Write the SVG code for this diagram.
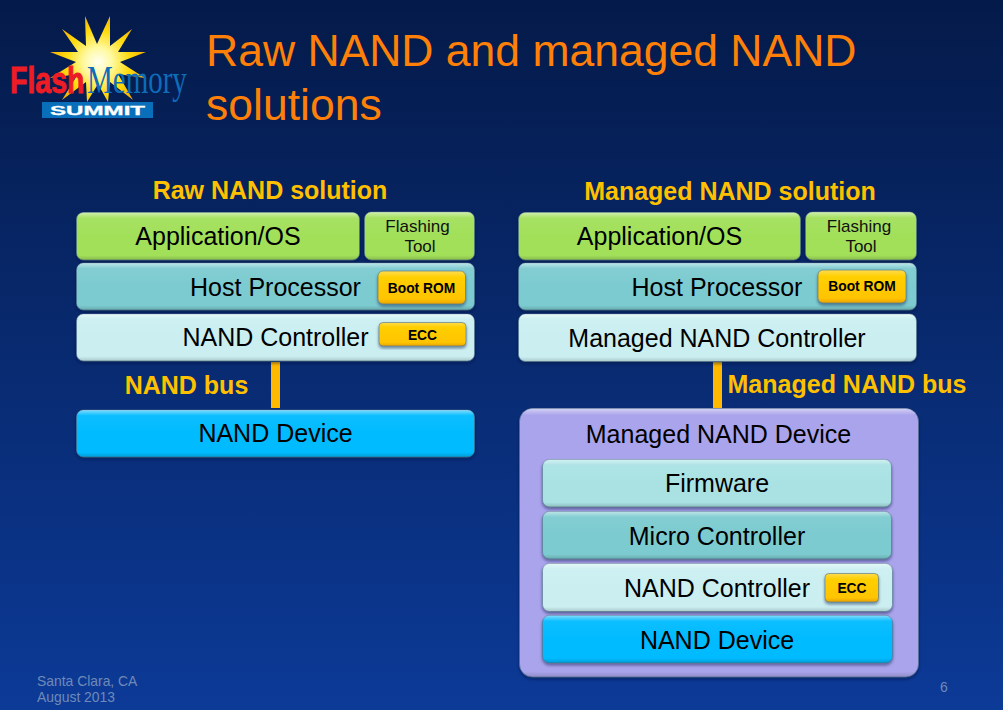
<svg xmlns="http://www.w3.org/2000/svg" width="1003" height="710" viewBox="0 0 1003 710">
<style>
text{font-family:"Liberation Sans",Arial,sans-serif}
.b{stroke:#4f6f8a;stroke-opacity:.6;stroke-width:1;filter:url(#sh)}
.o{fill:url(#bevel)}
.l{font-size:25px;fill:#000;text-anchor:middle}
.s{font-size:17px;fill:#111;text-anchor:middle}
.h{font-size:25px;font-weight:bold;fill:#ffc000;text-anchor:middle}
.y{font-size:13.800px;font-weight:bold;fill:#000;text-anchor:middle}
.f{font-size:13.900px;fill:#6f8ab8}
.green{fill:#a2e05a}.teal{fill:#7ccbd0}.pale{fill:#cbeff1}.cyan{fill:#00bbff}.aqua{fill:#aae2e4}.lav{fill:#aaa4ec}
.bus{fill:#ffb900}
</style>
<defs>
<linearGradient id="bg" x1="0" y1="0" x2="0" y2="1"><stop offset="0" stop-color="#041a49"/><stop offset="1" stop-color="#0c3a97"/></linearGradient>
<linearGradient id="bevel" x1="0" y1="0" x2="0" y2="1"><stop offset="0" stop-color="#fff" stop-opacity=".5"/><stop offset=".12" stop-color="#fff" stop-opacity=".05"/><stop offset=".5" stop-color="#fff" stop-opacity="0"/><stop offset=".9" stop-color="#000" stop-opacity="0"/><stop offset="1" stop-color="#000" stop-opacity=".16"/></linearGradient>
<linearGradient id="lavbevel" x1="0" y1="0" x2="0" y2="1"><stop offset="0" stop-color="#fff" stop-opacity=".5"/><stop offset=".025" stop-color="#fff" stop-opacity="0"/><stop offset=".98" stop-color="#000" stop-opacity="0"/><stop offset="1" stop-color="#000" stop-opacity=".15"/></linearGradient>
<linearGradient id="gold" x1="0" y1="0" x2="0" y2="1"><stop offset="0" stop-color="#ffdc50"/><stop offset=".2" stop-color="#ffcf00"/><stop offset=".85" stop-color="#ffc400"/><stop offset="1" stop-color="#e8a400"/></linearGradient>
<radialGradient id="sun" gradientUnits="userSpaceOnUse" cx="98" cy="62" r="48"><stop offset="0" stop-color="#fffff0"/><stop offset=".3" stop-color="#fff9a0"/><stop offset=".65" stop-color="#ffdc10"/><stop offset="1" stop-color="#f5b000"/></radialGradient>
<filter id="sh" x="-5%" y="-10%" width="110%" height="125%"><feDropShadow dx="0" dy="2" stdDeviation="1.500" flood-color="#001040" flood-opacity=".5"/></filter>
</defs>
<rect width="1003" height="710" fill="url(#bg)"/>
<g id="logo">
<polygon fill="url(#sun)" points="85,16 97,44 110,16 110,46 132,29 118,52 146,52 120,62 145,78 118,74 133,100 110,82 108,102 98,84 87,102 86,82 62,100 78,74 50,78 76,62 50,52 78,52 62,29 86,46"/>
<rect x="42" y="102" width="111" height="16" fill="#0a6fba"/>
<text transform="translate(50,115) scale(1.93,1)" font-size="12.500" font-weight="bold" fill="#fff" stroke="#fff" stroke-width=".3">SUMMIT</text>
<text transform="translate(10,93) scale(.77,1)" font-size="37" font-weight="bold" fill="#ee1c25" stroke="#ee1c25" stroke-width=".9">Flash</text>
<text transform="translate(87,93) scale(.725,1)" font-size="40" fill="#0f6cb8" style="font-family:'Liberation Serif',serif">Memory</text>
</g>
<g id="title" font-size="44.500" fill="#ff8008">
<text x="206" y="66">Raw NAND and managed NAND</text>
<text x="206" y="120">solutions</text>
</g>
<text id="left-heading" class="h" x="270" y="199">Raw NAND solution</text>
<text id="right-heading" class="h" x="730" y="200">Managed NAND solution</text>
<g id="connectors">
<rect class="bus" x="271" y="362" width="9" height="46"/>
<rect class="bus" x="713" y="362" width="9" height="46"/>
</g>
<text id="nand-bus" class="h" x="186.500" y="394">NAND bus</text>
<text id="managed-nand-bus" class="h" x="847" y="393">Managed NAND bus</text>

<g id="l-app"><rect class="b green" x="76.500" y="212.500" width="283" height="47.500" rx="7"/><rect class="o" x="76.500" y="212.500" width="283" height="47.500" rx="7"/><text class="l" x="218" y="245">Application/OS</text></g>
<g id="l-flash"><rect class="b green" x="364.500" y="212" width="110" height="48" rx="7"/><rect class="o" x="364.500" y="212" width="110" height="48" rx="7"/><text class="s" x="417.500" y="232">Flashing</text><text class="s" x="420" y="252">Tool</text></g>
<g id="l-host"><rect class="b teal" x="76.500" y="263" width="398" height="47" rx="7"/><rect class="o" x="76.500" y="263" width="398" height="47" rx="7"/><text class="l" x="275.500" y="296">Host Processor</text></g>
<g id="l-boot"><rect class="b" fill="url(#gold)" x="378" y="271" width="87.500" height="33" rx="5"/><text class="y" x="421.500" y="293">Boot ROM</text></g>
<g id="l-ctrl"><rect class="b pale" x="76.500" y="314" width="398" height="47" rx="7"/><rect class="o" x="76.500" y="314" width="398" height="47" rx="7"/><text class="l" x="275.500" y="346">NAND Controller</text></g>
<g id="l-ecc"><rect class="b" fill="url(#gold)" x="379" y="322.500" width="87" height="23.500" rx="4"/><text class="y" x="422.500" y="340">ECC</text></g>
<g id="l-dev"><rect class="b cyan" x="76.500" y="410" width="398" height="47" rx="7"/><rect class="o" x="76.500" y="410" width="398" height="47" rx="7"/><text class="l" x="275.500" y="442">NAND Device</text></g>

<g id="r-app"><rect class="b green" x="518.500" y="212.500" width="282" height="47.500" rx="7"/><rect class="o" x="518.500" y="212.500" width="282" height="47.500" rx="7"/><text class="l" x="659.500" y="245">Application/OS</text></g>
<g id="r-flash"><rect class="b green" x="805.500" y="212" width="111" height="48" rx="7"/><rect class="o" x="805.500" y="212" width="111" height="48" rx="7"/><text class="s" x="859" y="232">Flashing</text><text class="s" x="861" y="252">Tool</text></g>
<g id="r-host"><rect class="b teal" x="518.500" y="263" width="398" height="47" rx="7"/><rect class="o" x="518.500" y="263" width="398" height="47" rx="7"/><text class="l" x="717" y="296">Host Processor</text></g>
<g id="r-boot"><rect class="b" fill="url(#gold)" x="818" y="270" width="88" height="33" rx="5"/><text class="y" x="862" y="291">Boot ROM</text></g>
<g id="r-ctrl"><rect class="b pale" x="518.500" y="314" width="398" height="47.500" rx="7"/><rect class="o" x="518.500" y="314" width="398" height="47.500" rx="7"/><text class="l" x="717" y="347">Managed NAND Controller</text></g>
<g id="r-device"><rect class="b lav" x="519.500" y="408.500" width="399" height="268.500" rx="13"/><rect x="519.500" y="408.500" width="399" height="268.500" rx="13" fill="url(#lavbevel)"/><text class="l" x="718.500" y="443">Managed NAND Device</text></g>
<g id="r-fw"><rect class="b aqua" x="542.500" y="459.500" width="349" height="47.500" rx="7"/><rect class="o" x="542.500" y="459.500" width="349" height="47.500" rx="7"/><text class="l" x="717" y="492">Firmware</text></g>
<g id="r-mc"><rect class="b teal" x="542.500" y="511.500" width="349" height="47.500" rx="7"/><rect class="o" x="542.500" y="511.500" width="349" height="47.500" rx="7"/><text class="l" x="717" y="545">Micro Controller</text></g>
<g id="r-nc"><rect class="b pale" x="542.500" y="563.500" width="350" height="48" rx="7"/><rect class="o" x="542.500" y="563.500" width="350" height="48" rx="7"/><text class="l" x="717" y="597">NAND Controller</text></g>
<g id="r-ecc"><rect class="b" fill="url(#gold)" x="825" y="573.500" width="53.500" height="28.500" rx="4"/><text class="y" x="852" y="593">ECC</text></g>
<g id="r-nd"><rect class="b cyan" x="542.500" y="615.500" width="350" height="47.500" rx="7"/><rect class="o" x="542.500" y="615.500" width="350" height="47.500" rx="7"/><text class="l" x="717" y="649">NAND Device</text></g>

<g id="footer"><text class="f" x="37" y="686">Santa Clara, CA</text><text class="f" x="37" y="702">August 2013</text><text class="f" x="940" y="692">6</text></g>
</svg>
